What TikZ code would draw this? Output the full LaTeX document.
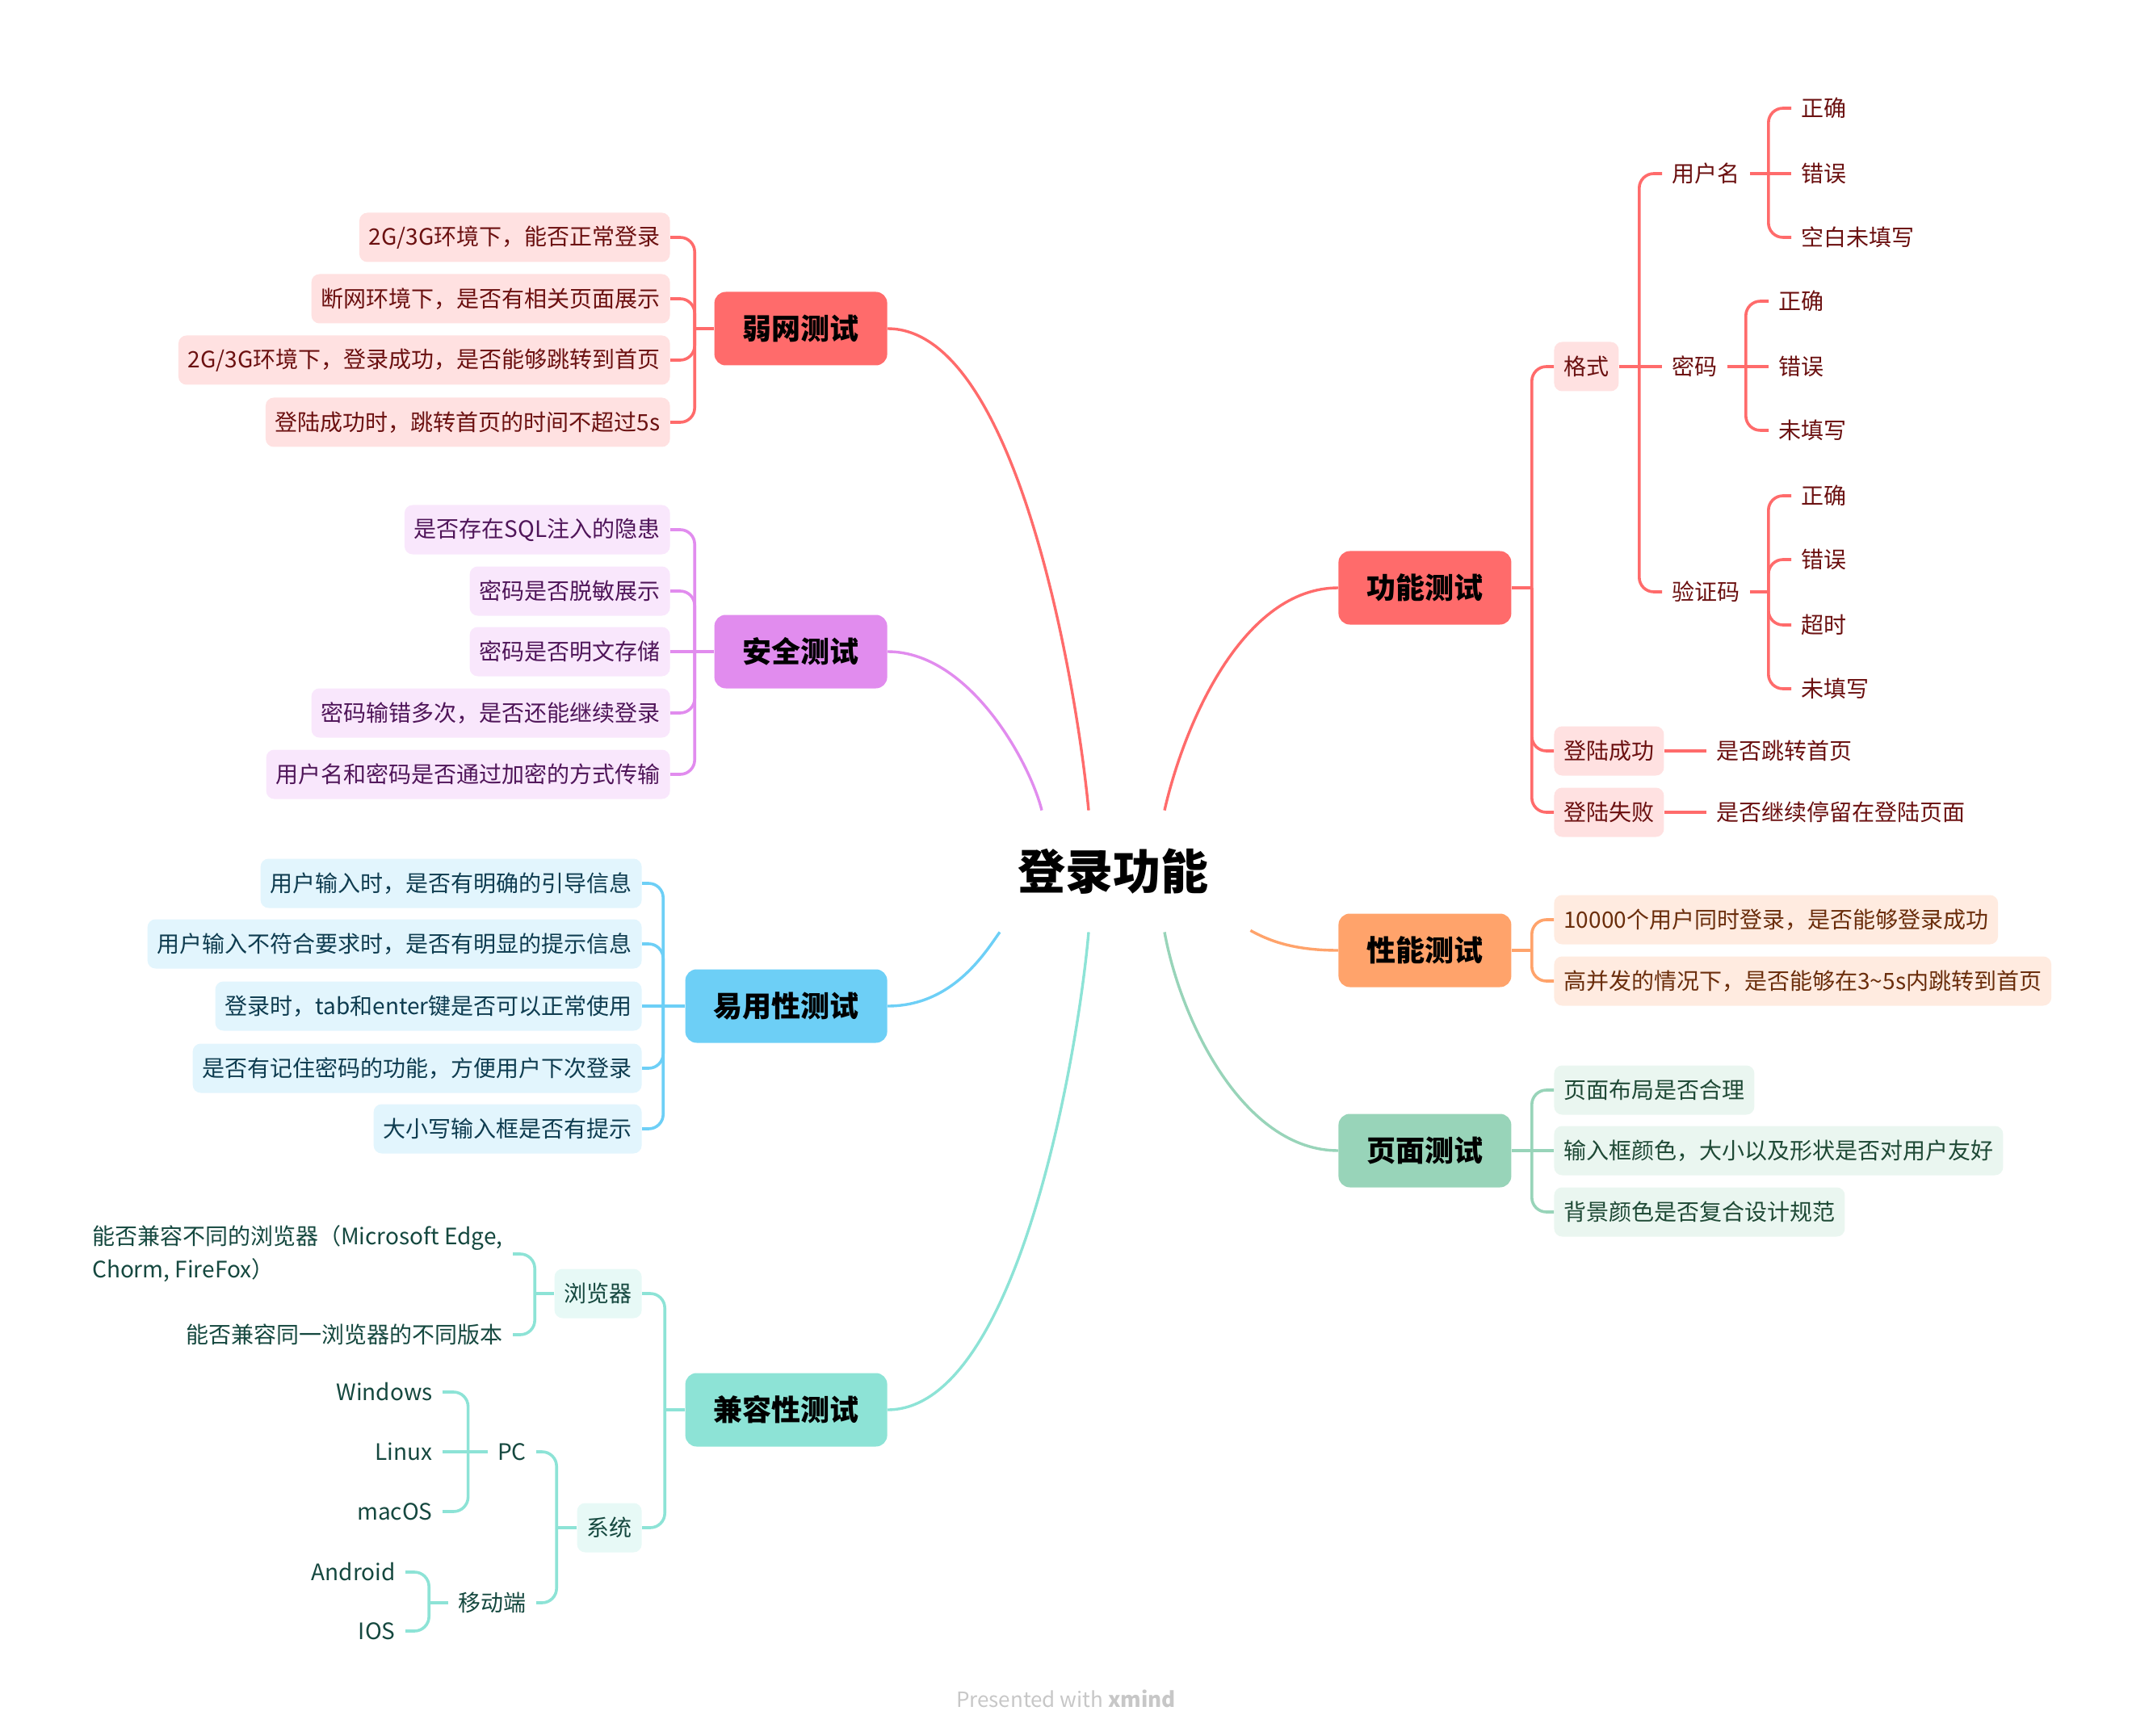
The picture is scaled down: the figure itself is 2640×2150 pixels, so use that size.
\documentclass[tikz,border=0pt]{standalone}
\usepackage{fontspec}
\setmainfont{Noto Sans CJK SC}
\usepackage{tikz}
\usetikzlibrary{calc}
\definecolor{mmRed}{HTML}{FF6B6B}
\definecolor{mmRedL}{HTML}{FFE1E1}
\definecolor{mmRedT}{HTML}{6B1010}
\definecolor{mmPurple}{HTML}{E18CEE}
\definecolor{mmPurpleL}{HTML}{F9E7FC}
\definecolor{mmPurpleT}{HTML}{4F1559}
\definecolor{mmBlue}{HTML}{6DCFF6}
\definecolor{mmBlueL}{HTML}{E2F5FD}
\definecolor{mmBlueT}{HTML}{0E3C50}
\definecolor{mmTeal}{HTML}{8DE3D6}
\definecolor{mmTealL}{HTML}{E7F9F6}
\definecolor{mmTealT}{HTML}{15483F}
\definecolor{mmOrange}{HTML}{FFA36B}
\definecolor{mmOrangeL}{HTML}{FFEBE0}
\definecolor{mmOrangeT}{HTML}{6A2D0B}
\definecolor{mmGreen}{HTML}{98D4B9}
\definecolor{mmGreenL}{HTML}{EAF6F0}
\definecolor{mmGreenT}{HTML}{1E4935}
\tikzset{
  topicbox/.style={fill=#1, text=black, rounded corners=7pt, minimum height=45.5pt,
    inner xsep=17.5pt, inner ysep=0pt, font=\fontsize{18}{20}\selectfont\bfseries},
  subbox/.style={fill=#1L, text=#1T, rounded corners=5pt, minimum height=30.5pt,
    inner xsep=6pt, inner ysep=0pt, font=\fontsize{14}{17}\selectfont},
  leaftext/.style={text=#1T, minimum height=30.5pt, inner xsep=6pt, inner ysep=0pt,
    font=\fontsize{14}{20.5}\selectfont},
  branchline/.style={draw=#1, line width=1.8pt, rounded corners=9pt},
  maincurve/.style={draw=#1, line width=1.7pt}
}
\begin{document}
\begin{tikzpicture}[x=0.5pt, y=-0.5pt]
\useasboundingbox (0,0) rectangle (2640,2150);
% centre
\node[font=\fontsize{29.5}{32}\selectfont\bfseries, minimum width=172pt, minimum height=75pt] (root) at (1378,1079) {登录功能};
% main topics, left
\node[topicbox=mmRed, anchor=east] (weak) at (1099,407) {弱网测试};
\node[topicbox=mmPurple, anchor=east] (sec) at (1099,807) {安全测试};
\node[topicbox=mmBlue, anchor=east] (usab) at (1099,1246) {易用性测试};
\node[topicbox=mmTeal, anchor=east] (compat) at (1099,1746) {兼容性测试};
% main topics, right
\node[topicbox=mmRed, anchor=west] (func) at (1657,728) {功能测试};
\node[topicbox=mmOrange, anchor=west] (perf) at (1657,1177) {性能测试};
\node[topicbox=mmGreen, anchor=west] (page) at (1657,1425) {页面测试};
% curves from the centre
\draw[maincurve=mmRed] (weak.east) .. controls +(161,0) and +(-14,-150) .. ($(root.north)+(-30,0)$);
\draw[maincurve=mmPurple] (sec.east) .. controls +(101,0) and +(-15,-60) .. ($(root.north)+(-88,0)$);
\draw[maincurve=mmBlue] (usab.east) .. controls +(81,0) and +(-18,25) .. ($(root.south)+(-140,0)$);
\draw[maincurve=mmTeal] (compat.east) .. controls +(161,0) and +(-13,150) .. ($(root.south)+(-30,0)$);
\draw[maincurve=mmRed] (func.west) .. controls +(-117,0) and +(25,-110) .. ($(root.north)+(64,0)$);
\draw[maincurve=mmOrange] (perf.west) .. controls +(-57,0) and +(22,12) .. ($(root.south east)+(-2,-2)$);
\draw[maincurve=mmGreen] (page.west) .. controls +(-117,0) and +(20,110) .. ($(root.south)+(64,0)$);

% weak network
\node[subbox=mmRed, anchor=east] (w1) at (830,294) {2G/3G环境下，能否正常登录};
\node[subbox=mmRed, anchor=east] (w2) at (830,370) {断网环境下，是否有相关页面展示};
\node[subbox=mmRed, anchor=east] (w3) at (830,446) {2G/3G环境下，登录成功，是否能够跳转到首页};
\node[subbox=mmRed, anchor=east] (w4) at (830,523) {登陆成功时，跳转首页的时间不超过5s};
\coordinate (wt) at ($(weak.west)+(-24,0)$);
\draw[branchline=mmRed] (weak.west) -- (wt);
\foreach \ch in {w1,w2,w3,w4} \draw[branchline=mmRed] (wt) |- (\ch.east);

% security
\node[subbox=mmPurple, anchor=east] (s1) at (830,656) {是否存在SQL注入的隐患};
\node[subbox=mmPurple, anchor=east] (s2) at (830,732) {密码是否脱敏展示};
\node[subbox=mmPurple, anchor=east] (s3) at (830,807) {密码是否明文存储};
\node[subbox=mmPurple, anchor=east] (s4) at (830,883) {密码输错多次，是否还能继续登录};
\node[subbox=mmPurple, anchor=east] (s5) at (830,959) {用户名和密码是否通过加密的方式传输};
\coordinate (st) at ($(sec.west)+(-24,0)$);
\draw[branchline=mmPurple] (sec.west) -- (st);
\foreach \ch in {s1,s2,s4,s5} \draw[branchline=mmPurple] (st) |- (\ch.east);
\draw[branchline=mmPurple] (st) -- (s3.east);

% usability
\node[subbox=mmBlue, anchor=east] (a1) at (795,1094) {用户输入时，是否有明确的引导信息};
\node[subbox=mmBlue, anchor=east] (a2) at (795,1169) {用户输入不符合要求时，是否有明显的提示信息};
\node[subbox=mmBlue, anchor=east] (a3) at (795,1246) {登录时，tab和enter键是否可以正常使用};
\node[subbox=mmBlue, anchor=east] (a4) at (795,1323) {是否有记住密码的功能，方便用户下次登录};
\node[subbox=mmBlue, anchor=east] (a5) at (795,1398) {大小写输入框是否有提示};
\coordinate (at) at ($(usab.west)+(-27,0)$);
\draw[branchline=mmBlue] (usab.west) -- (at);
\foreach \ch in {a1,a2,a4,a5} \draw[branchline=mmBlue] (at) |- (\ch.east);
\draw[branchline=mmBlue] (at) -- (a3.east);

% compatibility
\node[subbox=mmTeal, anchor=east] (br) at (795,1602) {浏览器};
\node[subbox=mmTeal, anchor=east] (sys) at (795,1892) {系统};
\coordinate (ct) at ($(compat.west)+(-25,0)$);
\draw[branchline=mmTeal] (compat.west) -- (ct);
\foreach \ch in {br,sys} \draw[branchline=mmTeal] (ct) |- (\ch.east);
% browsers
\node[leaftext=mmTeal, anchor=east, align=left] (br1) at (635,1553) {能否兼容不同的浏览器（Microsoft Edge,\\Chorm, FireFox）};
\node[leaftext=mmTeal, anchor=east] (br2) at (635,1653) {能否兼容同一浏览器的不同版本};
\coordinate (bt) at ($(br.west)+(-24,0)$);
\draw[branchline=mmTeal] (br.west) -- (bt);
\foreach \ch in {br1,br2} \draw[branchline=mmTeal] (bt) |- (\ch.east);
% systems
\node[leaftext=mmTeal, anchor=east] (pc) at (664,1798) {PC};
\node[leaftext=mmTeal, anchor=east] (mob) at (664,1985) {移动端};
\coordinate (yt) at ($(sys.west)+(-25,0)$);
\draw[branchline=mmTeal] (sys.west) -- (yt);
\foreach \ch in {pc,mob} \draw[branchline=mmTeal] (yt) |- (\ch.east);
\node[leaftext=mmTeal, anchor=east] (win) at (548,1724) {Windows};
\node[leaftext=mmTeal, anchor=east] (lin) at (548,1798) {Linux};
\node[leaftext=mmTeal, anchor=east] (mac) at (548,1872) {macOS};
\coordinate (pt) at ($(pc.west)+(-24,0)$);
\draw[branchline=mmTeal] (pc.west) -- (pt);
\foreach \ch in {win,mac} \draw[branchline=mmTeal] (pt) |- (\ch.east);
\draw[branchline=mmTeal] (pt) -- (lin.east);
\node[leaftext=mmTeal, anchor=east] (andr) at (502,1947) {Android};
\node[leaftext=mmTeal, anchor=east] (ios) at (502,2020) {IOS};
\coordinate (mt) at ($(mob.west)+(-24,0)$);
\draw[branchline=mmTeal] (mob.west) -- (mt);
\foreach \ch in {andr,ios} \draw[branchline=mmTeal] (mt) |- (\ch.east);

% function
\node[subbox=mmRed, anchor=west] (fmt) at (1924,454) {格式};
\node[subbox=mmRed, anchor=west] (okb) at (1924,930) {登陆成功};
\node[subbox=mmRed, anchor=west] (fail) at (1924,1006) {登陆失败};
\coordinate (ft) at ($(func.east)+(25,0)$);
\draw[branchline=mmRed] (func.east) -- (ft);
\foreach \ch in {fmt,okb,fail} \draw[branchline=mmRed] (ft) |- (\ch.west);
\node[leaftext=mmRed, anchor=west] (okj) at (2113,930) {是否跳转首页};
\node[leaftext=mmRed, anchor=west] (failj) at (2113,1006) {是否继续停留在登陆页面};
\draw[branchline=mmRed] (okb.east) -- (okj.west);
\draw[branchline=mmRed] (fail.east) -- (failj.west);
% format
\node[leaftext=mmRed, anchor=west] (uname) at (2058,215) {用户名};
\node[leaftext=mmRed, anchor=west] (pwd) at (2058,454) {密码};
\node[leaftext=mmRed, anchor=west] (vcode) at (2058,733) {验证码};
\coordinate (gt) at ($(fmt.east)+(25,0)$);
\draw[branchline=mmRed] (fmt.east) -- (gt);
\foreach \ch in {uname,vcode} \draw[branchline=mmRed] (gt) |- (\ch.west);
\draw[branchline=mmRed] (gt) -- (pwd.west);
\node[leaftext=mmRed, anchor=west] (un1) at (2218,134) {正确};
\node[leaftext=mmRed, anchor=west] (un2) at (2218,215) {错误};
\node[leaftext=mmRed, anchor=west] (un3) at (2218,294) {空白未填写};
\coordinate (ut) at ($(uname.east)+(23,0)$);
\draw[branchline=mmRed] (uname.east) -- (ut);
\foreach \ch in {un1,un3} \draw[branchline=mmRed] (ut) |- (\ch.west);
\draw[branchline=mmRed] (ut) -- (un2.west);
\node[leaftext=mmRed, anchor=west] (pw1) at (2190,373) {正确};
\node[leaftext=mmRed, anchor=west] (pw2) at (2190,454) {错误};
\node[leaftext=mmRed, anchor=west] (pw3) at (2190,533) {未填写};
\coordinate (wpt) at ($(pwd.east)+(23,0)$);
\draw[branchline=mmRed] (pwd.east) -- (wpt);
\foreach \ch in {pw1,pw3} \draw[branchline=mmRed] (wpt) |- (\ch.west);
\draw[branchline=mmRed] (wpt) -- (pw2.west);
\node[leaftext=mmRed, anchor=west] (vc1) at (2218,614) {正确};
\node[leaftext=mmRed, anchor=west] (vc2) at (2218,693) {错误};
\node[leaftext=mmRed, anchor=west] (vc3) at (2218,774) {超时};
\node[leaftext=mmRed, anchor=west] (vc4) at (2218,853) {未填写};
\coordinate (vt) at ($(vcode.east)+(23,0)$);
\draw[branchline=mmRed] (vcode.east) -- (vt);
\foreach \ch in {vc1,vc2,vc3,vc4} \draw[branchline=mmRed] (vt) |- (\ch.west);

% performance
\node[subbox=mmOrange, anchor=west] (p1) at (1924,1139) {10000个用户同时登录，是否能够登录成功};
\node[subbox=mmOrange, anchor=west] (p2) at (1924,1215) {高并发的情况下，是否能够在3\textasciitilde5s内跳转到首页};
\coordinate (rt) at ($(perf.east)+(25,0)$);
\draw[branchline=mmOrange] (perf.east) -- (rt);
\foreach \ch in {p1,p2} \draw[branchline=mmOrange] (rt) |- (\ch.west);

% page
\node[subbox=mmGreen, anchor=west] (g1) at (1924,1350) {页面布局是否合理};
\node[subbox=mmGreen, anchor=west] (g2) at (1924,1425) {输入框颜色，大小以及形状是否对用户友好};
\node[subbox=mmGreen, anchor=west] (g3) at (1924,1501) {背景颜色是否复合设计规范};
\coordinate (et) at ($(page.east)+(25,0)$);
\draw[branchline=mmGreen] (page.east) -- (et);
\foreach \ch in {g1,g3} \draw[branchline=mmGreen] (et) |- (\ch.west);
\draw[branchline=mmGreen] (et) -- (g2.west);

% footer
\node[text=black!22, font=\fontsize{13}{15}\selectfont] (mark) at (1320,2104) {Presented with \textbf{xmind}};
\end{tikzpicture}
\end{document}
